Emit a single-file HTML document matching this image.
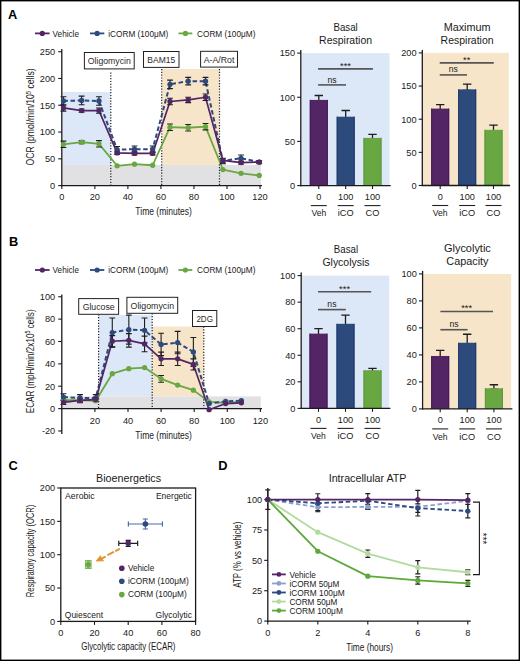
<!DOCTYPE html>
<html><head><meta charset="utf-8"><style>
html,body{margin:0;padding:0;background:#fff;}
body{width:520px;height:661px;overflow:hidden;}
svg{display:block;font-family:"Liberation Sans", sans-serif;}
</style></head><body>
<svg width="520" height="661" viewBox="0 0 520 661">
<rect x="0" y="0" width="520" height="661" fill="#fff"/>
<text x="8.00" y="18.50" font-size="12.8" text-anchor="start" fill="#000" font-weight="bold" >A</text>
<rect x="62.40" y="92.00" width="48.40" height="73.00" fill="#dce7f7" />
<rect x="161.70" y="69.00" width="57.80" height="96.00" fill="#f7e5c9" />
<rect x="62.40" y="165.00" width="198.60" height="20.60" fill="#e1e1e3" />
<line x1="110.80" y1="72.50" x2="110.80" y2="185.60" stroke="#222" stroke-width="1.2" stroke-dasharray="1.2,1.6"/>
<line x1="161.70" y1="69.00" x2="161.70" y2="185.60" stroke="#222" stroke-width="1.2" stroke-dasharray="1.2,1.6"/>
<line x1="219.50" y1="69.00" x2="219.50" y2="185.60" stroke="#222" stroke-width="1.2" stroke-dasharray="1.2,1.6"/>
<rect x="84.4" y="52.5" width="49.80" height="16.40" fill="#fff" stroke="#222" stroke-width="1"/>
<text x="109.30" y="64.20" font-size="9.6" text-anchor="middle" fill="#2a2a2a" font-weight="normal" textLength="42.9" lengthAdjust="spacingAndGlyphs" >Oligomycin</text>
<rect x="143.5" y="51.5" width="35.50" height="15.90" fill="#fff" stroke="#222" stroke-width="1"/>
<text x="161.25" y="62.95" font-size="9.6" text-anchor="middle" fill="#2a2a2a" font-weight="normal" textLength="27.9" lengthAdjust="spacingAndGlyphs" >BAM15</text>
<rect x="200.6" y="51.3" width="36.90" height="15.80" fill="#fff" stroke="#222" stroke-width="1"/>
<text x="219.05" y="62.70" font-size="9.6" text-anchor="middle" fill="#2a2a2a" font-weight="normal" textLength="30.6" lengthAdjust="spacingAndGlyphs" >A-A/Rot</text>
<line x1="61.80" y1="49.00" x2="61.80" y2="186.20" stroke="#1a1a1a" stroke-width="1.3" />
<line x1="61.20" y1="185.60" x2="262.00" y2="185.60" stroke="#1a1a1a" stroke-width="1.3" />
<line x1="58.20" y1="185.60" x2="61.80" y2="185.60" stroke="#1a1a1a" stroke-width="1.1" />
<text x="55.20" y="188.90" font-size="9.2" text-anchor="end" fill="#1a1a1a" font-weight="normal" >0</text>
<line x1="58.20" y1="158.82" x2="61.80" y2="158.82" stroke="#1a1a1a" stroke-width="1.1" />
<text x="55.20" y="162.12" font-size="9.2" text-anchor="end" fill="#1a1a1a" font-weight="normal" >50</text>
<line x1="58.20" y1="132.04" x2="61.80" y2="132.04" stroke="#1a1a1a" stroke-width="1.1" />
<text x="55.20" y="135.34" font-size="9.2" text-anchor="end" fill="#1a1a1a" font-weight="normal" >100</text>
<line x1="58.20" y1="105.26" x2="61.80" y2="105.26" stroke="#1a1a1a" stroke-width="1.1" />
<text x="55.20" y="108.56" font-size="9.2" text-anchor="end" fill="#1a1a1a" font-weight="normal" >150</text>
<line x1="58.20" y1="78.48" x2="61.80" y2="78.48" stroke="#1a1a1a" stroke-width="1.1" />
<text x="55.20" y="81.78" font-size="9.2" text-anchor="end" fill="#1a1a1a" font-weight="normal" >200</text>
<line x1="58.20" y1="51.70" x2="61.80" y2="51.70" stroke="#1a1a1a" stroke-width="1.1" />
<text x="55.20" y="55.00" font-size="9.2" text-anchor="end" fill="#1a1a1a" font-weight="normal" >250</text>
<line x1="61.80" y1="185.60" x2="61.80" y2="189.10" stroke="#1a1a1a" stroke-width="1.1" />
<text x="61.80" y="200.00" font-size="9.2" text-anchor="middle" fill="#1a1a1a" font-weight="normal" >0</text>
<line x1="94.84" y1="185.60" x2="94.84" y2="189.10" stroke="#1a1a1a" stroke-width="1.1" />
<text x="94.84" y="200.00" font-size="9.2" text-anchor="middle" fill="#1a1a1a" font-weight="normal" >20</text>
<line x1="127.88" y1="185.60" x2="127.88" y2="189.10" stroke="#1a1a1a" stroke-width="1.1" />
<text x="127.88" y="200.00" font-size="9.2" text-anchor="middle" fill="#1a1a1a" font-weight="normal" >40</text>
<line x1="160.92" y1="185.60" x2="160.92" y2="189.10" stroke="#1a1a1a" stroke-width="1.1" />
<text x="160.92" y="200.00" font-size="9.2" text-anchor="middle" fill="#1a1a1a" font-weight="normal" >60</text>
<line x1="193.96" y1="185.60" x2="193.96" y2="189.10" stroke="#1a1a1a" stroke-width="1.1" />
<text x="193.96" y="200.00" font-size="9.2" text-anchor="middle" fill="#1a1a1a" font-weight="normal" >80</text>
<line x1="227.00" y1="185.60" x2="227.00" y2="189.10" stroke="#1a1a1a" stroke-width="1.1" />
<text x="227.00" y="200.00" font-size="9.2" text-anchor="middle" fill="#1a1a1a" font-weight="normal" >100</text>
<line x1="260.04" y1="185.60" x2="260.04" y2="189.10" stroke="#1a1a1a" stroke-width="1.1" />
<text x="260.04" y="200.00" font-size="9.2" text-anchor="middle" fill="#1a1a1a" font-weight="normal" >120</text>
<text x="163.60" y="214.60" font-size="10.7" text-anchor="middle" fill="#1a1a1a" font-weight="normal" textLength="56.5" lengthAdjust="spacingAndGlyphs" >Time (minutes)</text>
<text transform="translate(33.9,116.9) rotate(-90)" font-size="10.4" text-anchor="middle" fill="#1a1a1a" textLength="97" lengthAdjust="spacingAndGlyphs">OCR (pmol/min/10<tspan font-size="7" dy="-3.4">5</tspan><tspan dy="3.4"> cells)</tspan></text>
<polyline points="63.45,144.36 81.62,142.22 98.97,143.82 117.14,165.78 134.49,164.18 152.66,165.25 170.01,127.22 188.18,127.76 205.52,126.68 222.87,169.53 241.04,173.28 259.21,175.42" fill="none" stroke="#69a742" stroke-width="1.8" stroke-linejoin="round"/>
<polyline points="63.45,100.98 81.62,100.44 98.97,100.98 117.14,149.71 134.49,149.18 152.66,149.18 170.01,84.37 188.18,81.16 205.52,81.16 222.87,160.96 241.04,158.28 259.21,162.03" fill="none" stroke="#2d4a7c" stroke-width="2.0" stroke-linejoin="round" stroke-dasharray="4.5,2.6"/>
<polyline points="63.45,107.94 81.62,110.62 98.97,110.62 117.14,152.93 134.49,153.46 152.66,153.46 170.01,101.51 188.18,99.90 205.52,97.23 222.87,160.43 241.04,162.57 259.21,162.03" fill="none" stroke="#542564" stroke-width="1.7" stroke-linejoin="round"/>
<path d="M60.55,104.72H66.35M63.45,104.72V111.15M60.55,111.15H66.35" stroke="#1e1e1e" stroke-width="1.1" fill="none"/>
<path d="M78.72,109.01H84.52M81.62,109.01V112.22M78.72,112.22H84.52" stroke="#1e1e1e" stroke-width="1.1" fill="none"/>
<path d="M96.07,107.94H101.87M98.97,107.94V113.29M96.07,113.29H101.87" stroke="#1e1e1e" stroke-width="1.1" fill="none"/>
<path d="M114.24,151.32H120.04M117.14,151.32V154.54M114.24,154.54H120.04" stroke="#1e1e1e" stroke-width="1.1" fill="none"/>
<path d="M131.59,151.86H137.39M134.49,151.86V155.07M131.59,155.07H137.39" stroke="#1e1e1e" stroke-width="1.1" fill="none"/>
<path d="M149.76,151.86H155.56M152.66,151.86V155.07M149.76,155.07H155.56" stroke="#1e1e1e" stroke-width="1.1" fill="none"/>
<path d="M167.11,98.30H172.91M170.01,98.30V104.72M167.11,104.72H172.91" stroke="#1e1e1e" stroke-width="1.1" fill="none"/>
<path d="M185.28,97.23H191.08M188.18,97.23V102.58M185.28,102.58H191.08" stroke="#1e1e1e" stroke-width="1.1" fill="none"/>
<path d="M202.62,94.01H208.42M205.52,94.01V100.44M202.62,100.44H208.42" stroke="#1e1e1e" stroke-width="1.1" fill="none"/>
<path d="M219.97,158.82H225.77M222.87,158.82V162.03M219.97,162.03H225.77" stroke="#1e1e1e" stroke-width="1.1" fill="none"/>
<path d="M238.14,160.96H243.94M241.04,160.96V164.18M238.14,164.18H243.94" stroke="#1e1e1e" stroke-width="1.1" fill="none"/>
<path d="M60.55,96.69H66.35M63.45,96.69V105.26M60.55,105.26H66.35" stroke="#1e1e1e" stroke-width="1.1" fill="none"/>
<path d="M78.72,96.15H84.52M81.62,96.15V104.72M78.72,104.72H84.52" stroke="#1e1e1e" stroke-width="1.1" fill="none"/>
<path d="M96.07,96.69H101.87M98.97,96.69V105.26M96.07,105.26H101.87" stroke="#1e1e1e" stroke-width="1.1" fill="none"/>
<path d="M114.24,146.50H120.04M117.14,146.50V152.93M114.24,152.93H120.04" stroke="#1e1e1e" stroke-width="1.1" fill="none"/>
<path d="M131.59,145.97H137.39M134.49,145.97V152.39M131.59,152.39H137.39" stroke="#1e1e1e" stroke-width="1.1" fill="none"/>
<path d="M149.76,145.97H155.56M152.66,145.97V152.39M149.76,152.39H155.56" stroke="#1e1e1e" stroke-width="1.1" fill="none"/>
<path d="M167.11,80.09H172.91M170.01,80.09V88.66M167.11,88.66H172.91" stroke="#1e1e1e" stroke-width="1.1" fill="none"/>
<path d="M185.28,77.41H191.08M188.18,77.41V84.91M185.28,84.91H191.08" stroke="#1e1e1e" stroke-width="1.1" fill="none"/>
<path d="M202.62,77.41H208.42M205.52,77.41V84.91M202.62,84.91H208.42" stroke="#1e1e1e" stroke-width="1.1" fill="none"/>
<path d="M219.97,158.28H225.77M222.87,158.28V163.64M219.97,163.64H225.77" stroke="#1e1e1e" stroke-width="1.1" fill="none"/>
<path d="M238.14,155.07H243.94M241.04,155.07V161.50M238.14,161.50H243.94" stroke="#1e1e1e" stroke-width="1.1" fill="none"/>
<path d="M256.31,160.43H262.11M259.21,160.43V163.64M256.31,163.64H262.11" stroke="#1e1e1e" stroke-width="1.1" fill="none"/>
<path d="M60.55,141.15H66.35M63.45,141.15V147.57M60.55,147.57H66.35" stroke="#1e1e1e" stroke-width="1.1" fill="none"/>
<path d="M78.72,140.61H84.52M81.62,140.61V143.82M78.72,143.82H84.52" stroke="#1e1e1e" stroke-width="1.1" fill="none"/>
<path d="M96.07,140.61H101.87M98.97,140.61V147.04M96.07,147.04H101.87" stroke="#1e1e1e" stroke-width="1.1" fill="none"/>
<path d="M167.11,124.01H172.91M170.01,124.01V130.43M167.11,130.43H172.91" stroke="#1e1e1e" stroke-width="1.1" fill="none"/>
<path d="M185.28,124.54H191.08M188.18,124.54V130.97M185.28,130.97H191.08" stroke="#1e1e1e" stroke-width="1.1" fill="none"/>
<path d="M202.62,123.47H208.42M205.52,123.47V129.90M202.62,129.90H208.42" stroke="#1e1e1e" stroke-width="1.1" fill="none"/>
<circle cx="63.45" cy="144.36" r="2.65" fill="#69a742" />
<circle cx="81.62" cy="142.22" r="2.65" fill="#69a742" />
<circle cx="98.97" cy="143.82" r="2.65" fill="#69a742" />
<circle cx="117.14" cy="165.78" r="2.65" fill="#69a742" />
<circle cx="134.49" cy="164.18" r="2.65" fill="#69a742" />
<circle cx="152.66" cy="165.25" r="2.65" fill="#69a742" />
<circle cx="170.01" cy="127.22" r="2.65" fill="#69a742" />
<circle cx="188.18" cy="127.76" r="2.65" fill="#69a742" />
<circle cx="205.52" cy="126.68" r="2.65" fill="#69a742" />
<circle cx="222.87" cy="169.53" r="2.65" fill="#69a742" />
<circle cx="241.04" cy="173.28" r="2.65" fill="#69a742" />
<circle cx="259.21" cy="175.42" r="2.65" fill="#69a742" />
<circle cx="63.45" cy="100.98" r="2.65" fill="#2d4a7c" />
<circle cx="81.62" cy="100.44" r="2.65" fill="#2d4a7c" />
<circle cx="98.97" cy="100.98" r="2.65" fill="#2d4a7c" />
<circle cx="117.14" cy="149.71" r="2.65" fill="#2d4a7c" />
<circle cx="134.49" cy="149.18" r="2.65" fill="#2d4a7c" />
<circle cx="152.66" cy="149.18" r="2.65" fill="#2d4a7c" />
<circle cx="170.01" cy="84.37" r="2.65" fill="#2d4a7c" />
<circle cx="188.18" cy="81.16" r="2.65" fill="#2d4a7c" />
<circle cx="205.52" cy="81.16" r="2.65" fill="#2d4a7c" />
<circle cx="222.87" cy="160.96" r="2.65" fill="#2d4a7c" />
<circle cx="241.04" cy="158.28" r="2.65" fill="#2d4a7c" />
<circle cx="259.21" cy="162.03" r="2.65" fill="#2d4a7c" />
<circle cx="63.45" cy="107.94" r="2.65" fill="#542564" />
<circle cx="81.62" cy="110.62" r="2.65" fill="#542564" />
<circle cx="98.97" cy="110.62" r="2.65" fill="#542564" />
<circle cx="117.14" cy="152.93" r="2.65" fill="#542564" />
<circle cx="134.49" cy="153.46" r="2.65" fill="#542564" />
<circle cx="152.66" cy="153.46" r="2.65" fill="#542564" />
<circle cx="170.01" cy="101.51" r="2.65" fill="#542564" />
<circle cx="188.18" cy="99.90" r="2.65" fill="#542564" />
<circle cx="205.52" cy="97.23" r="2.65" fill="#542564" />
<circle cx="222.87" cy="160.43" r="2.65" fill="#542564" />
<circle cx="241.04" cy="162.57" r="2.65" fill="#542564" />
<circle cx="259.21" cy="162.03" r="2.65" fill="#542564" />
<line x1="35.00" y1="33.40" x2="49.60" y2="33.40" stroke="#542564" stroke-width="1.8" />
<circle cx="42.30" cy="33.40" r="2.6" fill="#542564" />
<text x="52.60" y="36.50" font-size="8.6" text-anchor="start" fill="#1a1a1a" font-weight="normal" textLength="26.4" lengthAdjust="spacingAndGlyphs" >Vehicle</text>
<line x1="90.00" y1="33.40" x2="104.30" y2="33.40" stroke="#2d4a7c" stroke-width="1.8" />
<circle cx="97.15" cy="33.40" r="2.6" fill="#2d4a7c" />
<text x="108.30" y="36.50" font-size="8.6" text-anchor="start" fill="#1a1a1a" font-weight="normal" textLength="60" lengthAdjust="spacingAndGlyphs" >iCORM (100μM)</text>
<line x1="178.50" y1="33.40" x2="192.30" y2="33.40" stroke="#69a742" stroke-width="1.8" />
<circle cx="185.40" cy="33.40" r="2.6" fill="#69a742" />
<text x="197.00" y="36.50" font-size="8.6" text-anchor="start" fill="#1a1a1a" font-weight="normal" textLength="58.4" lengthAdjust="spacingAndGlyphs" >CORM (100μM)</text>
<text x="9.00" y="246.20" font-size="12.8" text-anchor="start" fill="#000" font-weight="bold" >B</text>
<rect x="98.60" y="315.00" width="53.60" height="81.40" fill="#dce7f7" />
<rect x="152.20" y="326.50" width="51.60" height="69.90" fill="#f7e5c9" />
<rect x="62.40" y="396.40" width="198.40" height="12.20" fill="#e1e1e3" />
<line x1="98.60" y1="314.30" x2="98.60" y2="408.60" stroke="#222" stroke-width="1.2" stroke-dasharray="1.2,1.6"/>
<line x1="152.20" y1="313.30" x2="152.20" y2="408.60" stroke="#222" stroke-width="1.2" stroke-dasharray="1.2,1.6"/>
<line x1="203.80" y1="326.50" x2="203.80" y2="408.60" stroke="#222" stroke-width="1.2" stroke-dasharray="1.2,1.6"/>
<rect x="78.7" y="298.6" width="39.90" height="15.70" fill="#fff" stroke="#222" stroke-width="1"/>
<text x="98.65" y="309.95" font-size="9.6" text-anchor="middle" fill="#2a2a2a" font-weight="normal" textLength="32" lengthAdjust="spacingAndGlyphs" >Glucose</text>
<rect x="126.9" y="297.3" width="50.80" height="16.00" fill="#fff" stroke="#222" stroke-width="1"/>
<text x="152.30" y="308.80" font-size="9.6" text-anchor="middle" fill="#2a2a2a" font-weight="normal" textLength="43.5" lengthAdjust="spacingAndGlyphs" >Oligomycin</text>
<rect x="192.5" y="310.5" width="24.30" height="16.00" fill="#fff" stroke="#222" stroke-width="1"/>
<text x="204.65" y="322.00" font-size="9.6" text-anchor="middle" fill="#2a2a2a" font-weight="normal" textLength="16.5" lengthAdjust="spacingAndGlyphs" >2DG</text>
<line x1="61.80" y1="294.40" x2="61.80" y2="434.00" stroke="#1a1a1a" stroke-width="1.3" />
<line x1="61.20" y1="408.60" x2="262.00" y2="408.60" stroke="#1a1a1a" stroke-width="1.3" />
<line x1="58.20" y1="430.97" x2="61.80" y2="430.97" stroke="#1a1a1a" stroke-width="1.1" />
<text x="55.20" y="434.27" font-size="9.2" text-anchor="end" fill="#1a1a1a" font-weight="normal" >-20</text>
<line x1="58.20" y1="408.60" x2="61.80" y2="408.60" stroke="#1a1a1a" stroke-width="1.1" />
<text x="55.20" y="411.90" font-size="9.2" text-anchor="end" fill="#1a1a1a" font-weight="normal" >0</text>
<line x1="58.20" y1="386.23" x2="61.80" y2="386.23" stroke="#1a1a1a" stroke-width="1.1" />
<text x="55.20" y="389.53" font-size="9.2" text-anchor="end" fill="#1a1a1a" font-weight="normal" >20</text>
<line x1="58.20" y1="363.86" x2="61.80" y2="363.86" stroke="#1a1a1a" stroke-width="1.1" />
<text x="55.20" y="367.16" font-size="9.2" text-anchor="end" fill="#1a1a1a" font-weight="normal" >40</text>
<line x1="58.20" y1="341.49" x2="61.80" y2="341.49" stroke="#1a1a1a" stroke-width="1.1" />
<text x="55.20" y="344.79" font-size="9.2" text-anchor="end" fill="#1a1a1a" font-weight="normal" >60</text>
<line x1="58.20" y1="319.12" x2="61.80" y2="319.12" stroke="#1a1a1a" stroke-width="1.1" />
<text x="55.20" y="322.42" font-size="9.2" text-anchor="end" fill="#1a1a1a" font-weight="normal" >80</text>
<line x1="58.20" y1="296.75" x2="61.80" y2="296.75" stroke="#1a1a1a" stroke-width="1.1" />
<text x="55.20" y="300.05" font-size="9.2" text-anchor="end" fill="#1a1a1a" font-weight="normal" >100</text>
<line x1="94.90" y1="408.60" x2="94.90" y2="412.10" stroke="#1a1a1a" stroke-width="1.1" />
<text x="94.90" y="423.60" font-size="9.2" text-anchor="middle" fill="#1a1a1a" font-weight="normal" >20</text>
<line x1="128.00" y1="408.60" x2="128.00" y2="412.10" stroke="#1a1a1a" stroke-width="1.1" />
<text x="128.00" y="423.60" font-size="9.2" text-anchor="middle" fill="#1a1a1a" font-weight="normal" >40</text>
<line x1="161.10" y1="408.60" x2="161.10" y2="412.10" stroke="#1a1a1a" stroke-width="1.1" />
<text x="161.10" y="423.60" font-size="9.2" text-anchor="middle" fill="#1a1a1a" font-weight="normal" >60</text>
<line x1="194.20" y1="408.60" x2="194.20" y2="412.10" stroke="#1a1a1a" stroke-width="1.1" />
<text x="194.20" y="423.60" font-size="9.2" text-anchor="middle" fill="#1a1a1a" font-weight="normal" >80</text>
<line x1="227.30" y1="408.60" x2="227.30" y2="412.10" stroke="#1a1a1a" stroke-width="1.1" />
<text x="227.30" y="423.60" font-size="9.2" text-anchor="middle" fill="#1a1a1a" font-weight="normal" >100</text>
<line x1="260.40" y1="408.60" x2="260.40" y2="412.10" stroke="#1a1a1a" stroke-width="1.1" />
<text x="260.40" y="423.60" font-size="9.2" text-anchor="middle" fill="#1a1a1a" font-weight="normal" >120</text>
<text x="163.60" y="438.80" font-size="10.7" text-anchor="middle" fill="#1a1a1a" font-weight="normal" textLength="56.5" lengthAdjust="spacingAndGlyphs" >Time (minutes)</text>
<text transform="translate(33.8,361.3) rotate(-90)" font-size="10.4" text-anchor="middle" fill="#1a1a1a" textLength="103.8" lengthAdjust="spacingAndGlyphs">ECAR (mpH/min/2x10<tspan font-size="7" dy="-3.4">5</tspan><tspan dy="3.4"> cells)</tspan></text>
<polyline points="63.45,400.21 80.00,400.21 95.73,400.77 112.28,373.70 128.83,368.67 144.55,367.55 161.10,378.85 177.65,385.11 193.37,390.14 209.10,401.89 225.64,402.78 241.37,401.89" fill="none" stroke="#69a742" stroke-width="1.8" stroke-linejoin="round"/>
<polyline points="63.45,397.08 80.00,397.97 95.73,397.97 112.28,332.54 128.83,329.63 144.55,330.31 161.10,344.40 177.65,342.61 193.37,352.00 209.10,403.57 225.64,401.33 241.37,400.77" fill="none" stroke="#2d4a7c" stroke-width="2.0" stroke-linejoin="round" stroke-dasharray="4.5,2.6"/>
<polyline points="63.45,402.34 80.00,400.43 95.73,399.54 112.28,341.27 128.83,340.37 144.55,343.95 161.10,358.83 177.65,358.83 193.37,364.42 209.10,409.72 225.64,403.57 241.37,402.78" fill="none" stroke="#542564" stroke-width="1.7" stroke-linejoin="round"/>
<path d="M60.55,400.10H66.36M63.45,400.10V404.57M60.55,404.57H66.36" stroke="#1e1e1e" stroke-width="1.1" fill="none"/>
<path d="M77.10,398.20H82.91M80.00,398.20V402.67M77.10,402.67H82.91" stroke="#1e1e1e" stroke-width="1.1" fill="none"/>
<path d="M92.83,397.30H98.63M95.73,397.30V401.78M92.83,401.78H98.63" stroke="#1e1e1e" stroke-width="1.1" fill="none"/>
<path d="M109.38,335.67H115.18M112.28,335.67V346.86M109.38,346.86H115.18" stroke="#1e1e1e" stroke-width="1.1" fill="none"/>
<path d="M125.93,333.66H131.73M128.83,333.66V347.08M125.93,347.08H131.73" stroke="#1e1e1e" stroke-width="1.1" fill="none"/>
<path d="M141.65,336.12H147.45M144.55,336.12V351.78M141.65,351.78H147.45" stroke="#1e1e1e" stroke-width="1.1" fill="none"/>
<path d="M158.20,352.12H164.00M161.10,352.12V365.54M158.20,365.54H164.00" stroke="#1e1e1e" stroke-width="1.1" fill="none"/>
<path d="M174.75,352.12H180.55M177.65,352.12V365.54M174.75,365.54H180.55" stroke="#1e1e1e" stroke-width="1.1" fill="none"/>
<path d="M190.47,358.83H196.27M193.37,358.83V370.01M190.47,370.01H196.27" stroke="#1e1e1e" stroke-width="1.1" fill="none"/>
<path d="M60.55,393.72H66.36M63.45,393.72V400.43M60.55,400.43H66.36" stroke="#1e1e1e" stroke-width="1.1" fill="none"/>
<path d="M77.10,394.62H82.91M80.00,394.62V401.33M77.10,401.33H82.91" stroke="#1e1e1e" stroke-width="1.1" fill="none"/>
<path d="M92.83,394.62H98.63M95.73,394.62V401.33M92.83,401.33H98.63" stroke="#1e1e1e" stroke-width="1.1" fill="none"/>
<path d="M109.38,318.00H115.18M112.28,318.00V347.08M109.38,347.08H115.18" stroke="#1e1e1e" stroke-width="1.1" fill="none"/>
<path d="M125.93,315.09H131.73M128.83,315.09V344.17M125.93,344.17H131.73" stroke="#1e1e1e" stroke-width="1.1" fill="none"/>
<path d="M141.65,318.00H147.45M144.55,318.00V342.61M141.65,342.61H147.45" stroke="#1e1e1e" stroke-width="1.1" fill="none"/>
<path d="M158.20,333.21H164.00M161.10,333.21V355.58M158.20,355.58H164.00" stroke="#1e1e1e" stroke-width="1.1" fill="none"/>
<path d="M174.75,331.42H180.55M177.65,331.42V353.79M174.75,353.79H180.55" stroke="#1e1e1e" stroke-width="1.1" fill="none"/>
<path d="M190.47,337.46H196.27M193.37,337.46V366.54M190.47,366.54H196.27" stroke="#1e1e1e" stroke-width="1.1" fill="none"/>
<path d="M158.20,375.49H164.00M161.10,375.49V382.20M158.20,382.20H164.00" stroke="#1e1e1e" stroke-width="1.1" fill="none"/>
<circle cx="63.45" cy="400.21" r="2.65" fill="#69a742" />
<circle cx="80.00" cy="400.21" r="2.65" fill="#69a742" />
<circle cx="95.73" cy="400.77" r="2.65" fill="#69a742" />
<circle cx="112.28" cy="373.70" r="2.65" fill="#69a742" />
<circle cx="128.83" cy="368.67" r="2.65" fill="#69a742" />
<circle cx="144.55" cy="367.55" r="2.65" fill="#69a742" />
<circle cx="161.10" cy="378.85" r="2.65" fill="#69a742" />
<circle cx="177.65" cy="385.11" r="2.65" fill="#69a742" />
<circle cx="193.37" cy="390.14" r="2.65" fill="#69a742" />
<circle cx="209.10" cy="401.89" r="2.65" fill="#69a742" />
<circle cx="225.64" cy="402.78" r="2.65" fill="#69a742" />
<circle cx="241.37" cy="401.89" r="2.65" fill="#69a742" />
<circle cx="63.45" cy="397.08" r="2.65" fill="#2d4a7c" />
<circle cx="80.00" cy="397.97" r="2.65" fill="#2d4a7c" />
<circle cx="95.73" cy="397.97" r="2.65" fill="#2d4a7c" />
<circle cx="112.28" cy="332.54" r="2.65" fill="#2d4a7c" />
<circle cx="128.83" cy="329.63" r="2.65" fill="#2d4a7c" />
<circle cx="144.55" cy="330.31" r="2.65" fill="#2d4a7c" />
<circle cx="161.10" cy="344.40" r="2.65" fill="#2d4a7c" />
<circle cx="177.65" cy="342.61" r="2.65" fill="#2d4a7c" />
<circle cx="193.37" cy="352.00" r="2.65" fill="#2d4a7c" />
<circle cx="209.10" cy="403.57" r="2.65" fill="#2d4a7c" />
<circle cx="225.64" cy="401.33" r="2.65" fill="#2d4a7c" />
<circle cx="241.37" cy="400.77" r="2.65" fill="#2d4a7c" />
<circle cx="63.45" cy="402.34" r="2.65" fill="#542564" />
<circle cx="80.00" cy="400.43" r="2.65" fill="#542564" />
<circle cx="95.73" cy="399.54" r="2.65" fill="#542564" />
<circle cx="112.28" cy="341.27" r="2.65" fill="#542564" />
<circle cx="128.83" cy="340.37" r="2.65" fill="#542564" />
<circle cx="144.55" cy="343.95" r="2.65" fill="#542564" />
<circle cx="161.10" cy="358.83" r="2.65" fill="#542564" />
<circle cx="177.65" cy="358.83" r="2.65" fill="#542564" />
<circle cx="193.37" cy="364.42" r="2.65" fill="#542564" />
<circle cx="209.10" cy="409.72" r="2.65" fill="#542564" />
<circle cx="225.64" cy="403.57" r="2.65" fill="#542564" />
<circle cx="241.37" cy="402.78" r="2.65" fill="#542564" />
<line x1="35.00" y1="270.00" x2="49.60" y2="270.00" stroke="#542564" stroke-width="1.8" />
<circle cx="42.30" cy="270.00" r="2.6" fill="#542564" />
<text x="52.60" y="273.10" font-size="8.6" text-anchor="start" fill="#1a1a1a" font-weight="normal" textLength="26.4" lengthAdjust="spacingAndGlyphs" >Vehicle</text>
<line x1="90.00" y1="270.00" x2="104.30" y2="270.00" stroke="#2d4a7c" stroke-width="1.8" />
<circle cx="97.15" cy="270.00" r="2.6" fill="#2d4a7c" />
<text x="108.30" y="273.10" font-size="8.6" text-anchor="start" fill="#1a1a1a" font-weight="normal" textLength="60" lengthAdjust="spacingAndGlyphs" >iCORM (100μM)</text>
<line x1="178.50" y1="270.00" x2="192.30" y2="270.00" stroke="#69a742" stroke-width="1.8" />
<circle cx="185.40" cy="270.00" r="2.6" fill="#69a742" />
<text x="197.00" y="273.10" font-size="8.6" text-anchor="start" fill="#1a1a1a" font-weight="normal" textLength="58.4" lengthAdjust="spacingAndGlyphs" >CORM (100μM)</text>
<text x="345.60" y="30.50" font-size="10.2" text-anchor="middle" fill="#1a1a1a" font-weight="normal" textLength="24.3" lengthAdjust="spacingAndGlyphs" >Basal</text>
<text x="345.60" y="43.90" font-size="10.2" text-anchor="middle" fill="#1a1a1a" font-weight="normal" textLength="53" lengthAdjust="spacingAndGlyphs" >Respiration</text>
<rect x="301.60" y="53.10" width="87.90" height="132.50" fill="#dce7f7" />
<path d="M314.60,95.50H323.00M318.80,95.50V100.92M314.60,100.92H323.00" stroke="#1e1e1e" stroke-width="1.3" fill="none"/>
<rect x="309.80" y="99.92" width="18.00" height="85.68" fill="#542564" />
<line x1="310.30" y1="99.92" x2="310.30" y2="185.60" stroke="#43175a" stroke-width="1" />
<line x1="327.30" y1="99.92" x2="327.30" y2="185.60" stroke="#43175a" stroke-width="1" />
<line x1="318.80" y1="185.60" x2="318.80" y2="189.00" stroke="#1a1a1a" stroke-width="1.1" />
<path d="M341.50,110.52H349.90M345.70,110.52V117.70M341.50,117.70H349.90" stroke="#1e1e1e" stroke-width="1.3" fill="none"/>
<rect x="336.70" y="116.70" width="18.00" height="68.90" fill="#2d4a7c" />
<line x1="337.20" y1="116.70" x2="337.20" y2="185.60" stroke="#1d3769" stroke-width="1" />
<line x1="354.20" y1="116.70" x2="354.20" y2="185.60" stroke="#1d3769" stroke-width="1" />
<line x1="345.70" y1="185.60" x2="345.70" y2="189.00" stroke="#1a1a1a" stroke-width="1.1" />
<path d="M368.30,134.37H376.70M372.50,134.37V138.90M368.30,138.90H376.70" stroke="#1e1e1e" stroke-width="1.3" fill="none"/>
<rect x="363.50" y="137.90" width="18.00" height="47.70" fill="#69a742" />
<line x1="364.00" y1="137.90" x2="364.00" y2="185.60" stroke="#5a983a" stroke-width="1" />
<line x1="381.00" y1="137.90" x2="381.00" y2="185.60" stroke="#5a983a" stroke-width="1" />
<line x1="372.50" y1="185.60" x2="372.50" y2="189.00" stroke="#1a1a1a" stroke-width="1.1" />
<line x1="300.80" y1="50.10" x2="300.80" y2="186.20" stroke="#1a1a1a" stroke-width="1.3" />
<line x1="300.20" y1="185.60" x2="390.70" y2="185.60" stroke="#1a1a1a" stroke-width="1.3" />
<line x1="297.20" y1="185.60" x2="300.80" y2="185.60" stroke="#1a1a1a" stroke-width="1.1" />
<text x="295.00" y="188.90" font-size="9.2" text-anchor="end" fill="#1a1a1a" font-weight="normal" >0</text>
<line x1="297.20" y1="141.43" x2="300.80" y2="141.43" stroke="#1a1a1a" stroke-width="1.1" />
<text x="295.00" y="144.73" font-size="9.2" text-anchor="end" fill="#1a1a1a" font-weight="normal" >50</text>
<line x1="297.20" y1="97.27" x2="300.80" y2="97.27" stroke="#1a1a1a" stroke-width="1.1" />
<text x="295.00" y="100.57" font-size="9.2" text-anchor="end" fill="#1a1a1a" font-weight="normal" >100</text>
<line x1="297.20" y1="53.10" x2="300.80" y2="53.10" stroke="#1a1a1a" stroke-width="1.1" />
<text x="295.00" y="56.40" font-size="9.2" text-anchor="end" fill="#1a1a1a" font-weight="normal" >150</text>
<text x="318.80" y="200.00" font-size="9.2" text-anchor="middle" fill="#1a1a1a" font-weight="normal" >0</text>
<line x1="310.80" y1="205.60" x2="326.80" y2="205.60" stroke="#222" stroke-width="1.1" />
<text x="318.80" y="216.20" font-size="9.2" text-anchor="middle" fill="#1a1a1a" font-weight="normal" textLength="14.8" lengthAdjust="spacingAndGlyphs" >Veh</text>
<text x="345.70" y="200.00" font-size="9.2" text-anchor="middle" fill="#1a1a1a" font-weight="normal" >100</text>
<line x1="337.70" y1="205.60" x2="353.70" y2="205.60" stroke="#222" stroke-width="1.1" />
<text x="345.70" y="216.20" font-size="9.2" text-anchor="middle" fill="#1a1a1a" font-weight="normal" >iCO</text>
<text x="372.50" y="200.00" font-size="9.2" text-anchor="middle" fill="#1a1a1a" font-weight="normal" >100</text>
<line x1="364.50" y1="205.60" x2="380.50" y2="205.60" stroke="#222" stroke-width="1.1" />
<text x="372.50" y="216.20" font-size="9.2" text-anchor="middle" fill="#1a1a1a" font-weight="normal" >CO</text>
<line x1="318.10" y1="68.90" x2="372.90" y2="68.90" stroke="#555" stroke-width="1.6" />
<text x="345.50" y="68.80" font-size="9.4" text-anchor="middle" fill="#1a1a1a" font-weight="normal" >***</text>
<line x1="318.10" y1="84.90" x2="346.00" y2="84.90" stroke="#555" stroke-width="1.6" />
<text x="332.05" y="82.60" font-size="8.6" text-anchor="middle" fill="#1a1a1a" font-weight="normal" >ns</text>
<text x="467.10" y="30.80" font-size="10.2" text-anchor="middle" fill="#1a1a1a" font-weight="normal" textLength="46.9" lengthAdjust="spacingAndGlyphs" >Maximum</text>
<text x="467.10" y="43.80" font-size="10.2" text-anchor="middle" fill="#1a1a1a" font-weight="normal" textLength="53" lengthAdjust="spacingAndGlyphs" >Respiration</text>
<rect x="423.10" y="52.90" width="85.70" height="132.60" fill="#f7e5c9" />
<path d="M436.00,104.61H444.40M440.20,104.61V109.59M436.00,109.59H444.40" stroke="#1e1e1e" stroke-width="1.3" fill="none"/>
<rect x="431.20" y="108.59" width="18.00" height="76.91" fill="#542564" />
<line x1="431.70" y1="108.59" x2="431.70" y2="185.50" stroke="#43175a" stroke-width="1" />
<line x1="448.70" y1="108.59" x2="448.70" y2="185.50" stroke="#43175a" stroke-width="1" />
<line x1="440.20" y1="185.50" x2="440.20" y2="188.90" stroke="#1a1a1a" stroke-width="1.1" />
<path d="M463.00,84.06H471.40M467.20,84.06V90.37M463.00,90.37H471.40" stroke="#1e1e1e" stroke-width="1.3" fill="none"/>
<rect x="458.20" y="89.37" width="18.00" height="96.13" fill="#2d4a7c" />
<line x1="458.70" y1="89.37" x2="458.70" y2="185.50" stroke="#1d3769" stroke-width="1" />
<line x1="475.70" y1="89.37" x2="475.70" y2="185.50" stroke="#1d3769" stroke-width="1" />
<line x1="467.20" y1="185.50" x2="467.20" y2="188.90" stroke="#1a1a1a" stroke-width="1.1" />
<path d="M489.30,125.17H497.70M493.50,125.17V130.81M489.30,130.81H497.70" stroke="#1e1e1e" stroke-width="1.3" fill="none"/>
<rect x="484.50" y="129.81" width="18.00" height="55.69" fill="#69a742" />
<line x1="485.00" y1="129.81" x2="485.00" y2="185.50" stroke="#5a983a" stroke-width="1" />
<line x1="502.00" y1="129.81" x2="502.00" y2="185.50" stroke="#5a983a" stroke-width="1" />
<line x1="493.50" y1="185.50" x2="493.50" y2="188.90" stroke="#1a1a1a" stroke-width="1.1" />
<line x1="422.30" y1="49.90" x2="422.30" y2="186.10" stroke="#1a1a1a" stroke-width="1.3" />
<line x1="421.70" y1="185.50" x2="510.00" y2="185.50" stroke="#1a1a1a" stroke-width="1.3" />
<line x1="418.70" y1="185.50" x2="422.30" y2="185.50" stroke="#1a1a1a" stroke-width="1.1" />
<text x="416.50" y="188.80" font-size="9.2" text-anchor="end" fill="#1a1a1a" font-weight="normal" >0</text>
<line x1="418.70" y1="152.35" x2="422.30" y2="152.35" stroke="#1a1a1a" stroke-width="1.1" />
<text x="416.50" y="155.65" font-size="9.2" text-anchor="end" fill="#1a1a1a" font-weight="normal" >50</text>
<line x1="418.70" y1="119.20" x2="422.30" y2="119.20" stroke="#1a1a1a" stroke-width="1.1" />
<text x="416.50" y="122.50" font-size="9.2" text-anchor="end" fill="#1a1a1a" font-weight="normal" >100</text>
<line x1="418.70" y1="86.05" x2="422.30" y2="86.05" stroke="#1a1a1a" stroke-width="1.1" />
<text x="416.50" y="89.35" font-size="9.2" text-anchor="end" fill="#1a1a1a" font-weight="normal" >150</text>
<line x1="418.70" y1="52.90" x2="422.30" y2="52.90" stroke="#1a1a1a" stroke-width="1.1" />
<text x="416.50" y="56.20" font-size="9.2" text-anchor="end" fill="#1a1a1a" font-weight="normal" >200</text>
<text x="440.20" y="199.90" font-size="9.2" text-anchor="middle" fill="#1a1a1a" font-weight="normal" >0</text>
<line x1="432.20" y1="205.50" x2="448.20" y2="205.50" stroke="#222" stroke-width="1.1" />
<text x="440.20" y="216.10" font-size="9.2" text-anchor="middle" fill="#1a1a1a" font-weight="normal" textLength="14.8" lengthAdjust="spacingAndGlyphs" >Veh</text>
<text x="467.20" y="199.90" font-size="9.2" text-anchor="middle" fill="#1a1a1a" font-weight="normal" >100</text>
<line x1="459.20" y1="205.50" x2="475.20" y2="205.50" stroke="#222" stroke-width="1.1" />
<text x="467.20" y="216.10" font-size="9.2" text-anchor="middle" fill="#1a1a1a" font-weight="normal" >iCO</text>
<text x="493.50" y="199.90" font-size="9.2" text-anchor="middle" fill="#1a1a1a" font-weight="normal" >100</text>
<line x1="485.50" y1="205.50" x2="501.50" y2="205.50" stroke="#222" stroke-width="1.1" />
<text x="493.50" y="216.10" font-size="9.2" text-anchor="middle" fill="#1a1a1a" font-weight="normal" >CO</text>
<line x1="439.70" y1="62.90" x2="493.80" y2="62.90" stroke="#555" stroke-width="1.6" />
<text x="466.75" y="62.60" font-size="9.4" text-anchor="middle" fill="#1a1a1a" font-weight="normal" >**</text>
<line x1="439.70" y1="74.90" x2="467.00" y2="74.90" stroke="#555" stroke-width="1.6" />
<text x="453.35" y="72.20" font-size="8.6" text-anchor="middle" fill="#1a1a1a" font-weight="normal" >ns</text>
<text x="346.00" y="252.90" font-size="10.2" text-anchor="middle" fill="#1a1a1a" font-weight="normal" textLength="24.3" lengthAdjust="spacingAndGlyphs" >Basal</text>
<text x="346.00" y="265.70" font-size="10.2" text-anchor="middle" fill="#1a1a1a" font-weight="normal" textLength="47.2" lengthAdjust="spacingAndGlyphs" >Glycolysis</text>
<rect x="302.00" y="275.60" width="87.20" height="132.80" fill="#dce7f7" />
<path d="M314.30,328.72H322.70M318.50,328.72V334.63M314.30,334.63H322.70" stroke="#1e1e1e" stroke-width="1.3" fill="none"/>
<rect x="309.50" y="333.63" width="18.00" height="74.77" fill="#542564" />
<line x1="310.00" y1="333.63" x2="310.00" y2="408.40" stroke="#43175a" stroke-width="1" />
<line x1="327.00" y1="333.63" x2="327.00" y2="408.40" stroke="#43175a" stroke-width="1" />
<line x1="318.50" y1="408.40" x2="318.50" y2="411.80" stroke="#1a1a1a" stroke-width="1.1" />
<path d="M341.30,315.17H349.70M345.50,315.17V324.81M341.30,324.81H349.70" stroke="#1e1e1e" stroke-width="1.3" fill="none"/>
<rect x="336.50" y="323.81" width="18.00" height="84.59" fill="#2d4a7c" />
<line x1="337.00" y1="323.81" x2="337.00" y2="408.40" stroke="#1d3769" stroke-width="1" />
<line x1="354.00" y1="323.81" x2="354.00" y2="408.40" stroke="#1d3769" stroke-width="1" />
<line x1="345.50" y1="408.40" x2="345.50" y2="411.80" stroke="#1a1a1a" stroke-width="1.1" />
<path d="M368.30,368.43H376.70M372.50,368.43V371.29M368.30,371.29H376.70" stroke="#1e1e1e" stroke-width="1.3" fill="none"/>
<rect x="363.50" y="370.29" width="18.00" height="38.11" fill="#69a742" />
<line x1="364.00" y1="370.29" x2="364.00" y2="408.40" stroke="#5a983a" stroke-width="1" />
<line x1="381.00" y1="370.29" x2="381.00" y2="408.40" stroke="#5a983a" stroke-width="1" />
<line x1="372.50" y1="408.40" x2="372.50" y2="411.80" stroke="#1a1a1a" stroke-width="1.1" />
<line x1="301.20" y1="272.60" x2="301.20" y2="409.00" stroke="#1a1a1a" stroke-width="1.3" />
<line x1="300.60" y1="408.40" x2="390.40" y2="408.40" stroke="#1a1a1a" stroke-width="1.3" />
<line x1="297.60" y1="408.40" x2="301.20" y2="408.40" stroke="#1a1a1a" stroke-width="1.1" />
<text x="295.40" y="411.70" font-size="9.2" text-anchor="end" fill="#1a1a1a" font-weight="normal" >0</text>
<line x1="297.60" y1="381.84" x2="301.20" y2="381.84" stroke="#1a1a1a" stroke-width="1.1" />
<text x="295.40" y="385.14" font-size="9.2" text-anchor="end" fill="#1a1a1a" font-weight="normal" >20</text>
<line x1="297.60" y1="355.28" x2="301.20" y2="355.28" stroke="#1a1a1a" stroke-width="1.1" />
<text x="295.40" y="358.58" font-size="9.2" text-anchor="end" fill="#1a1a1a" font-weight="normal" >40</text>
<line x1="297.60" y1="328.72" x2="301.20" y2="328.72" stroke="#1a1a1a" stroke-width="1.1" />
<text x="295.40" y="332.02" font-size="9.2" text-anchor="end" fill="#1a1a1a" font-weight="normal" >60</text>
<line x1="297.60" y1="302.16" x2="301.20" y2="302.16" stroke="#1a1a1a" stroke-width="1.1" />
<text x="295.40" y="305.46" font-size="9.2" text-anchor="end" fill="#1a1a1a" font-weight="normal" >80</text>
<line x1="297.60" y1="275.60" x2="301.20" y2="275.60" stroke="#1a1a1a" stroke-width="1.1" />
<text x="295.40" y="278.90" font-size="9.2" text-anchor="end" fill="#1a1a1a" font-weight="normal" >100</text>
<text x="318.50" y="422.80" font-size="9.2" text-anchor="middle" fill="#1a1a1a" font-weight="normal" >0</text>
<line x1="310.50" y1="428.40" x2="326.50" y2="428.40" stroke="#222" stroke-width="1.1" />
<text x="318.50" y="439.00" font-size="9.2" text-anchor="middle" fill="#1a1a1a" font-weight="normal" textLength="14.8" lengthAdjust="spacingAndGlyphs" >Veh</text>
<text x="345.50" y="422.80" font-size="9.2" text-anchor="middle" fill="#1a1a1a" font-weight="normal" >100</text>
<line x1="337.50" y1="428.40" x2="353.50" y2="428.40" stroke="#222" stroke-width="1.1" />
<text x="345.50" y="439.00" font-size="9.2" text-anchor="middle" fill="#1a1a1a" font-weight="normal" >iCO</text>
<text x="372.50" y="422.80" font-size="9.2" text-anchor="middle" fill="#1a1a1a" font-weight="normal" >100</text>
<line x1="364.50" y1="428.40" x2="380.50" y2="428.40" stroke="#222" stroke-width="1.1" />
<text x="372.50" y="439.00" font-size="9.2" text-anchor="middle" fill="#1a1a1a" font-weight="normal" >CO</text>
<line x1="318.00" y1="291.80" x2="371.20" y2="291.80" stroke="#555" stroke-width="1.6" />
<text x="344.60" y="291.70" font-size="9.4" text-anchor="middle" fill="#1a1a1a" font-weight="normal" >***</text>
<line x1="318.00" y1="309.60" x2="345.80" y2="309.60" stroke="#555" stroke-width="1.6" />
<text x="331.90" y="306.90" font-size="8.6" text-anchor="middle" fill="#1a1a1a" font-weight="normal" >ns</text>
<text x="467.40" y="252.40" font-size="10.2" text-anchor="middle" fill="#1a1a1a" font-weight="normal" textLength="46.9" lengthAdjust="spacingAndGlyphs" >Glycolytic</text>
<text x="467.40" y="264.60" font-size="10.2" text-anchor="middle" fill="#1a1a1a" font-weight="normal" textLength="42.2" lengthAdjust="spacingAndGlyphs" >Capacity</text>
<rect x="423.40" y="273.90" width="87.80" height="135.00" fill="#f7e5c9" />
<path d="M436.00,350.44H444.40M440.20,350.44V356.98M436.00,356.98H444.40" stroke="#1e1e1e" stroke-width="1.3" fill="none"/>
<rect x="431.20" y="355.98" width="18.00" height="52.92" fill="#542564" />
<line x1="431.70" y1="355.98" x2="431.70" y2="408.90" stroke="#43175a" stroke-width="1" />
<line x1="448.70" y1="355.98" x2="448.70" y2="408.90" stroke="#43175a" stroke-width="1" />
<line x1="440.20" y1="408.90" x2="440.20" y2="412.30" stroke="#1a1a1a" stroke-width="1.1" />
<path d="M463.00,334.25H471.40M467.20,334.25V343.75M463.00,343.75H471.40" stroke="#1e1e1e" stroke-width="1.3" fill="none"/>
<rect x="458.20" y="342.75" width="18.00" height="66.15" fill="#2d4a7c" />
<line x1="458.70" y1="342.75" x2="458.70" y2="408.90" stroke="#1d3769" stroke-width="1" />
<line x1="475.70" y1="342.75" x2="475.70" y2="408.90" stroke="#1d3769" stroke-width="1" />
<line x1="467.20" y1="408.90" x2="467.20" y2="412.30" stroke="#1a1a1a" stroke-width="1.1" />
<path d="M489.70,384.73H498.10M493.90,384.73V389.25M489.70,389.25H498.10" stroke="#1e1e1e" stroke-width="1.3" fill="none"/>
<rect x="484.90" y="388.25" width="18.00" height="20.65" fill="#69a742" />
<line x1="485.40" y1="388.25" x2="485.40" y2="408.90" stroke="#5a983a" stroke-width="1" />
<line x1="502.40" y1="388.25" x2="502.40" y2="408.90" stroke="#5a983a" stroke-width="1" />
<line x1="493.90" y1="408.90" x2="493.90" y2="412.30" stroke="#1a1a1a" stroke-width="1.1" />
<line x1="422.60" y1="270.90" x2="422.60" y2="409.50" stroke="#1a1a1a" stroke-width="1.3" />
<line x1="422.00" y1="408.90" x2="512.40" y2="408.90" stroke="#1a1a1a" stroke-width="1.3" />
<line x1="419.00" y1="408.90" x2="422.60" y2="408.90" stroke="#1a1a1a" stroke-width="1.1" />
<text x="416.80" y="412.20" font-size="9.2" text-anchor="end" fill="#1a1a1a" font-weight="normal" >0</text>
<line x1="419.00" y1="381.90" x2="422.60" y2="381.90" stroke="#1a1a1a" stroke-width="1.1" />
<text x="416.80" y="385.20" font-size="9.2" text-anchor="end" fill="#1a1a1a" font-weight="normal" >20</text>
<line x1="419.00" y1="354.90" x2="422.60" y2="354.90" stroke="#1a1a1a" stroke-width="1.1" />
<text x="416.80" y="358.20" font-size="9.2" text-anchor="end" fill="#1a1a1a" font-weight="normal" >40</text>
<line x1="419.00" y1="327.90" x2="422.60" y2="327.90" stroke="#1a1a1a" stroke-width="1.1" />
<text x="416.80" y="331.20" font-size="9.2" text-anchor="end" fill="#1a1a1a" font-weight="normal" >60</text>
<line x1="419.00" y1="300.90" x2="422.60" y2="300.90" stroke="#1a1a1a" stroke-width="1.1" />
<text x="416.80" y="304.20" font-size="9.2" text-anchor="end" fill="#1a1a1a" font-weight="normal" >80</text>
<line x1="419.00" y1="273.90" x2="422.60" y2="273.90" stroke="#1a1a1a" stroke-width="1.1" />
<text x="416.80" y="277.20" font-size="9.2" text-anchor="end" fill="#1a1a1a" font-weight="normal" >100</text>
<text x="440.20" y="423.30" font-size="9.2" text-anchor="middle" fill="#1a1a1a" font-weight="normal" >0</text>
<line x1="432.20" y1="428.90" x2="448.20" y2="428.90" stroke="#222" stroke-width="1.1" />
<text x="440.20" y="439.50" font-size="9.2" text-anchor="middle" fill="#1a1a1a" font-weight="normal" textLength="14.8" lengthAdjust="spacingAndGlyphs" >Veh</text>
<text x="467.20" y="423.30" font-size="9.2" text-anchor="middle" fill="#1a1a1a" font-weight="normal" >100</text>
<line x1="459.20" y1="428.90" x2="475.20" y2="428.90" stroke="#222" stroke-width="1.1" />
<text x="467.20" y="439.50" font-size="9.2" text-anchor="middle" fill="#1a1a1a" font-weight="normal" >iCO</text>
<text x="493.90" y="423.30" font-size="9.2" text-anchor="middle" fill="#1a1a1a" font-weight="normal" >100</text>
<line x1="485.90" y1="428.90" x2="501.90" y2="428.90" stroke="#222" stroke-width="1.1" />
<text x="493.90" y="439.50" font-size="9.2" text-anchor="middle" fill="#1a1a1a" font-weight="normal" >CO</text>
<line x1="440.40" y1="311.50" x2="493.00" y2="311.50" stroke="#555" stroke-width="1.6" />
<text x="466.70" y="311.40" font-size="9.4" text-anchor="middle" fill="#1a1a1a" font-weight="normal" >***</text>
<line x1="440.40" y1="329.70" x2="467.60" y2="329.70" stroke="#555" stroke-width="1.6" />
<text x="454.00" y="327.00" font-size="8.6" text-anchor="middle" fill="#1a1a1a" font-weight="normal" >ns</text>
<text x="8.50" y="469.70" font-size="12.8" text-anchor="start" fill="#000" font-weight="bold" >C</text>
<text x="128.50" y="482.10" font-size="10.7" text-anchor="middle" fill="#1a1a1a" font-weight="normal" textLength="65" lengthAdjust="spacingAndGlyphs" >Bioenergetics</text>
<rect x="60.8" y="488" width="134.80" height="133.40" fill="none" stroke="#1a1a1a" stroke-width="1.3"/>
<line x1="57.20" y1="621.40" x2="60.80" y2="621.40" stroke="#1a1a1a" stroke-width="1.1" />
<text x="55.20" y="624.70" font-size="9.2" text-anchor="end" fill="#1a1a1a" font-weight="normal" >0</text>
<line x1="57.20" y1="588.05" x2="60.80" y2="588.05" stroke="#1a1a1a" stroke-width="1.1" />
<text x="55.20" y="591.35" font-size="9.2" text-anchor="end" fill="#1a1a1a" font-weight="normal" >50</text>
<line x1="57.20" y1="554.70" x2="60.80" y2="554.70" stroke="#1a1a1a" stroke-width="1.1" />
<text x="55.20" y="558.00" font-size="9.2" text-anchor="end" fill="#1a1a1a" font-weight="normal" >100</text>
<line x1="57.20" y1="521.35" x2="60.80" y2="521.35" stroke="#1a1a1a" stroke-width="1.1" />
<text x="55.20" y="524.65" font-size="9.2" text-anchor="end" fill="#1a1a1a" font-weight="normal" >150</text>
<line x1="57.20" y1="488.00" x2="60.80" y2="488.00" stroke="#1a1a1a" stroke-width="1.1" />
<text x="55.20" y="491.30" font-size="9.2" text-anchor="end" fill="#1a1a1a" font-weight="normal" >200</text>
<line x1="60.80" y1="621.40" x2="60.80" y2="624.90" stroke="#1a1a1a" stroke-width="1.1" />
<text x="60.80" y="635.50" font-size="9.2" text-anchor="middle" fill="#1a1a1a" font-weight="normal" >0</text>
<line x1="94.50" y1="621.40" x2="94.50" y2="624.90" stroke="#1a1a1a" stroke-width="1.1" />
<text x="94.50" y="635.50" font-size="9.2" text-anchor="middle" fill="#1a1a1a" font-weight="normal" >20</text>
<line x1="128.20" y1="621.40" x2="128.20" y2="624.90" stroke="#1a1a1a" stroke-width="1.1" />
<text x="128.20" y="635.50" font-size="9.2" text-anchor="middle" fill="#1a1a1a" font-weight="normal" >40</text>
<line x1="161.90" y1="621.40" x2="161.90" y2="624.90" stroke="#1a1a1a" stroke-width="1.1" />
<text x="161.90" y="635.50" font-size="9.2" text-anchor="middle" fill="#1a1a1a" font-weight="normal" >60</text>
<line x1="195.60" y1="621.40" x2="195.60" y2="624.90" stroke="#1a1a1a" stroke-width="1.1" />
<text x="195.60" y="635.50" font-size="9.2" text-anchor="middle" fill="#1a1a1a" font-weight="normal" >80</text>
<text x="128.40" y="650.40" font-size="10.3" text-anchor="middle" fill="#1a1a1a" font-weight="normal" textLength="94.2" lengthAdjust="spacingAndGlyphs" >Glycolytic capacity (ECAR)</text>
<text transform="translate(34.20,551.00) rotate(-90)" x="0" y="0" font-size="10.4" text-anchor="middle" fill="#1a1a1a" textLength="92.5" lengthAdjust="spacingAndGlyphs">Respiratory capacity (OCR)</text>
<text x="65.00" y="498.80" font-size="8.5" text-anchor="start" fill="#1a1a1a" font-weight="normal" textLength="29.7" lengthAdjust="spacingAndGlyphs" >Aerobic</text>
<text x="191.90" y="498.80" font-size="8.5" text-anchor="end" fill="#1a1a1a" font-weight="normal" textLength="36" lengthAdjust="spacingAndGlyphs" >Energetic</text>
<text x="64.80" y="617.50" font-size="8.5" text-anchor="start" fill="#1a1a1a" font-weight="normal" textLength="38.2" lengthAdjust="spacingAndGlyphs" >Quiescent</text>
<text x="192.00" y="617.50" font-size="8.5" text-anchor="end" fill="#1a1a1a" font-weight="normal" textLength="36.4" lengthAdjust="spacingAndGlyphs" >Glycolytic</text>
<path d="M119.2,549.1L115.9,550.8M113.3,552.2L108.1,554.8M105.0,556.9L99.5,559.6" stroke="#e39328" stroke-width="1.9" stroke-linecap="round" fill="none"/>
<polygon points="96.2,561.1 100.4,555.7 101.4,558.6 103.6,560.8" fill="#e39328" stroke="#e39328" stroke-width="0.8" stroke-linejoin="round"/>
<path d="M128.37,524.02H162.41M128.37,521.42V526.62M162.41,521.42V526.62M145.39,519.02V529.02M142.79,519.02H147.99M142.79,529.02H147.99" stroke="#4d6ba3" stroke-width="1.2" fill="none"/>
<circle cx="145.39" cy="524.02" r="2.8" fill="#2d4a7c" />
<path d="M118.76,543.36H137.64M118.76,540.76V545.96M137.64,540.76V545.96M128.20,540.36V546.36M125.60,540.36H130.80M125.60,546.36H130.80" stroke="#1e1e1e" stroke-width="1.2" fill="none"/>
<circle cx="128.20" cy="543.36" r="2.8" fill="#542564" />
<rect x="85.00" y="560.00" width="6.60" height="9.00" fill="#7cb65a" />
<circle cx="88.30" cy="564.50" r="2.6" fill="#69a742" />
<circle cx="86.40" cy="561.90" r="0.7" fill="#d9ecd0" />
<circle cx="86.40" cy="567.10" r="0.7" fill="#d9ecd0" />
<circle cx="90.20" cy="561.90" r="0.7" fill="#d9ecd0" />
<circle cx="90.20" cy="567.10" r="0.7" fill="#d9ecd0" />
<circle cx="121.80" cy="568.20" r="2.8" fill="#542564" />
<text x="127.90" y="571.00" font-size="9.4" text-anchor="start" fill="#1a1a1a" font-weight="normal" textLength="26.3" lengthAdjust="spacingAndGlyphs" >Vehicle</text>
<circle cx="121.80" cy="581.20" r="2.8" fill="#2d4a7c" />
<text x="127.90" y="584.00" font-size="9.4" text-anchor="start" fill="#1a1a1a" font-weight="normal" textLength="60.8" lengthAdjust="spacingAndGlyphs" >iCORM (100μM)</text>
<circle cx="121.80" cy="594.60" r="2.8" fill="#69a742" />
<text x="127.90" y="597.40" font-size="9.4" text-anchor="start" fill="#1a1a1a" font-weight="normal" textLength="58.8" lengthAdjust="spacingAndGlyphs" >CORM (100μM)</text>
<text x="218.20" y="469.60" font-size="12.8" text-anchor="start" fill="#000" font-weight="bold" >D</text>
<text x="367.60" y="481.90" font-size="10" text-anchor="middle" fill="#1a1a1a" font-weight="normal" textLength="77.8" lengthAdjust="spacingAndGlyphs" >Intracellular ATP</text>
<line x1="267.80" y1="488.00" x2="267.80" y2="621.70" stroke="#1a1a1a" stroke-width="1.3" />
<line x1="267.20" y1="621.10" x2="470.80" y2="621.10" stroke="#1a1a1a" stroke-width="1.3" />
<line x1="264.20" y1="621.10" x2="267.80" y2="621.10" stroke="#1a1a1a" stroke-width="1.1" />
<text x="262.20" y="624.40" font-size="9.2" text-anchor="end" fill="#1a1a1a" font-weight="normal" >0</text>
<line x1="264.20" y1="590.73" x2="267.80" y2="590.73" stroke="#1a1a1a" stroke-width="1.1" />
<text x="262.20" y="594.02" font-size="9.2" text-anchor="end" fill="#1a1a1a" font-weight="normal" >25</text>
<line x1="264.20" y1="560.35" x2="267.80" y2="560.35" stroke="#1a1a1a" stroke-width="1.1" />
<text x="262.20" y="563.65" font-size="9.2" text-anchor="end" fill="#1a1a1a" font-weight="normal" >50</text>
<line x1="264.20" y1="529.98" x2="267.80" y2="529.98" stroke="#1a1a1a" stroke-width="1.1" />
<text x="262.20" y="533.27" font-size="9.2" text-anchor="end" fill="#1a1a1a" font-weight="normal" >75</text>
<line x1="264.20" y1="499.60" x2="267.80" y2="499.60" stroke="#1a1a1a" stroke-width="1.1" />
<text x="262.20" y="502.90" font-size="9.2" text-anchor="end" fill="#1a1a1a" font-weight="normal" >100</text>
<line x1="267.80" y1="621.10" x2="267.80" y2="624.60" stroke="#1a1a1a" stroke-width="1.1" />
<text x="267.80" y="635.50" font-size="9.2" text-anchor="middle" fill="#1a1a1a" font-weight="normal" >0</text>
<line x1="317.80" y1="621.10" x2="317.80" y2="624.60" stroke="#1a1a1a" stroke-width="1.1" />
<text x="317.80" y="635.50" font-size="9.2" text-anchor="middle" fill="#1a1a1a" font-weight="normal" >2</text>
<line x1="367.80" y1="621.10" x2="367.80" y2="624.60" stroke="#1a1a1a" stroke-width="1.1" />
<text x="367.80" y="635.50" font-size="9.2" text-anchor="middle" fill="#1a1a1a" font-weight="normal" >4</text>
<line x1="417.80" y1="621.10" x2="417.80" y2="624.60" stroke="#1a1a1a" stroke-width="1.1" />
<text x="417.80" y="635.50" font-size="9.2" text-anchor="middle" fill="#1a1a1a" font-weight="normal" >6</text>
<line x1="467.80" y1="621.10" x2="467.80" y2="624.60" stroke="#1a1a1a" stroke-width="1.1" />
<text x="467.80" y="635.50" font-size="9.2" text-anchor="middle" fill="#1a1a1a" font-weight="normal" >8</text>
<text x="369.60" y="650.60" font-size="11" text-anchor="middle" fill="#1a1a1a" font-weight="normal" textLength="46.8" lengthAdjust="spacingAndGlyphs" >Time (hours)</text>
<text transform="translate(240.60,554.70) rotate(-90)" x="0" y="0" font-size="10.8" text-anchor="middle" fill="#1a1a1a" textLength="66.2" lengthAdjust="spacingAndGlyphs">ATP (% vs vehicle)</text>
<polyline points="267.80,499.60 317.80,532.16 367.80,553.67 417.80,567.28 467.80,572.26" fill="none" stroke="#b5daa0" stroke-width="1.8" stroke-linejoin="round"/>
<polyline points="267.80,499.60 317.80,551.24 367.80,576.14 417.80,580.40 467.80,583.31" fill="none" stroke="#5ea83a" stroke-width="1.8" stroke-linejoin="round"/>
<polyline points="267.80,499.60 317.80,507.25 367.80,506.89 417.80,506.89 467.80,500.81" fill="none" stroke="#8d9fcb" stroke-width="1.8" stroke-linejoin="round" stroke-dasharray="4.5,2.6"/>
<polyline points="267.80,499.60 317.80,503.25 367.80,500.81 417.80,508.11 467.80,511.02" fill="none" stroke="#2a4a80" stroke-width="1.8" stroke-linejoin="round" stroke-dasharray="4.5,2.6"/>
<polyline points="267.80,499.60 317.80,499.60 367.80,499.60 417.80,499.60 467.80,500.21" fill="none" stroke="#542564" stroke-width="1.8" stroke-linejoin="round"/>
<path d="M265.30,489.88H270.30M267.80,489.88V509.32M265.30,509.32H270.30" stroke="#1e1e1e" stroke-width="1.2" fill="none"/>
<path d="M315.30,493.77H320.30M317.80,493.77V511.75M315.30,511.75H320.30" stroke="#1e1e1e" stroke-width="1.2" fill="none"/>
<path d="M365.30,493.53H370.30M367.80,493.53V509.32M365.30,509.32H370.30" stroke="#1e1e1e" stroke-width="1.2" fill="none"/>
<path d="M415.30,490.37H420.30M417.80,490.37V516.00M415.30,516.00H420.30" stroke="#1e1e1e" stroke-width="1.2" fill="none"/>
<path d="M465.30,493.53H470.30M467.80,493.53V511.51M465.30,511.51H470.30" stroke="#1e1e1e" stroke-width="1.2" fill="none"/>
<path d="M465.30,504.46H470.30M467.80,504.46V517.83M465.30,517.83H470.30" stroke="#1e1e1e" stroke-width="1.2" fill="none"/>
<path d="M315.30,504.46H320.30M317.80,504.46V510.54M315.30,510.54H320.30" stroke="#1e1e1e" stroke-width="1.2" fill="none"/>
<path d="M365.30,504.46H370.30M367.80,504.46V508.71M365.30,508.71H370.30" stroke="#1e1e1e" stroke-width="1.2" fill="none"/>
<path d="M415.30,503.85H420.30M417.80,503.85V512.36M415.30,512.36H420.30" stroke="#1e1e1e" stroke-width="1.2" fill="none"/>
<path d="M365.30,550.02H370.30M367.80,550.02V557.31M365.30,557.31H370.30" stroke="#1e1e1e" stroke-width="1.2" fill="none"/>
<path d="M415.30,560.59H420.30M417.80,560.59V573.96M415.30,573.96H420.30" stroke="#1e1e1e" stroke-width="1.2" fill="none"/>
<path d="M465.30,569.83H470.30M467.80,569.83V574.69M465.30,574.69H470.30" stroke="#1e1e1e" stroke-width="1.2" fill="none"/>
<path d="M415.30,576.75H420.30M417.80,576.75V584.04M415.30,584.04H420.30" stroke="#1e1e1e" stroke-width="1.2" fill="none"/>
<path d="M465.30,580.28H470.30M467.80,580.28V586.35M465.30,586.35H470.30" stroke="#1e1e1e" stroke-width="1.2" fill="none"/>
<circle cx="267.80" cy="499.60" r="2.6" fill="#b5daa0" />
<circle cx="317.80" cy="532.16" r="2.6" fill="#b5daa0" />
<circle cx="367.80" cy="553.67" r="2.6" fill="#b5daa0" />
<circle cx="417.80" cy="567.28" r="2.6" fill="#b5daa0" />
<circle cx="467.80" cy="572.26" r="2.6" fill="#b5daa0" />
<circle cx="267.80" cy="499.60" r="2.6" fill="#5ea83a" />
<circle cx="317.80" cy="551.24" r="2.6" fill="#5ea83a" />
<circle cx="367.80" cy="576.14" r="2.6" fill="#5ea83a" />
<circle cx="417.80" cy="580.40" r="2.6" fill="#5ea83a" />
<circle cx="467.80" cy="583.31" r="2.6" fill="#5ea83a" />
<circle cx="267.80" cy="499.60" r="2.6" fill="#8d9fcb" />
<circle cx="317.80" cy="507.25" r="2.6" fill="#8d9fcb" />
<circle cx="367.80" cy="506.89" r="2.6" fill="#8d9fcb" />
<circle cx="417.80" cy="506.89" r="2.6" fill="#8d9fcb" />
<circle cx="467.80" cy="500.81" r="2.6" fill="#8d9fcb" />
<circle cx="267.80" cy="499.60" r="2.6" fill="#2a4a80" />
<circle cx="317.80" cy="503.25" r="2.6" fill="#2a4a80" />
<circle cx="367.80" cy="500.81" r="2.6" fill="#2a4a80" />
<circle cx="417.80" cy="508.11" r="2.6" fill="#2a4a80" />
<circle cx="467.80" cy="511.02" r="2.6" fill="#2a4a80" />
<circle cx="267.80" cy="499.60" r="2.6" fill="#542564" />
<circle cx="317.80" cy="499.60" r="2.6" fill="#542564" />
<circle cx="367.80" cy="499.60" r="2.6" fill="#542564" />
<circle cx="417.80" cy="499.60" r="2.6" fill="#542564" />
<circle cx="467.80" cy="500.21" r="2.6" fill="#542564" />
<polyline points="473,502.1 479.4,502.1 479.4,574.6 473,574.6" fill="none" stroke="#1a1a1a" stroke-width="1.1"/>
<text transform="translate(479.2,538.6) rotate(90)" font-size="10" text-anchor="middle" fill="#1a1a1a">***</text>
<line x1="272.00" y1="574.40" x2="285.80" y2="574.40" stroke="#542564" stroke-width="1.8" />
<circle cx="278.90" cy="574.40" r="2.4" fill="#542564" />
<text x="289.40" y="577.50" font-size="8.8" text-anchor="start" fill="#1a1a1a" font-weight="normal" textLength="26.4" lengthAdjust="spacingAndGlyphs" >Vehicle</text>
<line x1="272.00" y1="583.45" x2="285.80" y2="583.45" stroke="#8d9fcb" stroke-width="1.8" />
<circle cx="278.90" cy="583.45" r="2.4" fill="#8d9fcb" />
<text x="289.40" y="586.55" font-size="8.8" text-anchor="start" fill="#1a1a1a" font-weight="normal" textLength="50" lengthAdjust="spacingAndGlyphs" >iCORM 50μM</text>
<line x1="272.00" y1="592.50" x2="285.80" y2="592.50" stroke="#2a4a80" stroke-width="1.8" />
<circle cx="278.90" cy="592.50" r="2.4" fill="#2a4a80" />
<text x="289.40" y="595.60" font-size="8.8" text-anchor="start" fill="#1a1a1a" font-weight="normal" textLength="55.3" lengthAdjust="spacingAndGlyphs" >iCORM 100μM</text>
<line x1="272.00" y1="601.55" x2="285.80" y2="601.55" stroke="#b5daa0" stroke-width="1.8" />
<circle cx="278.90" cy="601.55" r="2.4" fill="#b5daa0" />
<text x="289.40" y="604.65" font-size="8.8" text-anchor="start" fill="#1a1a1a" font-weight="normal" textLength="48" lengthAdjust="spacingAndGlyphs" >CORM 50μM</text>
<line x1="272.00" y1="610.60" x2="285.80" y2="610.60" stroke="#5ea83a" stroke-width="1.8" />
<circle cx="278.90" cy="610.60" r="2.4" fill="#5ea83a" />
<text x="289.40" y="613.70" font-size="8.8" text-anchor="start" fill="#1a1a1a" font-weight="normal" textLength="53.5" lengthAdjust="spacingAndGlyphs" >CORM 100μM</text>
<rect x="0.7" y="0.7" width="518.6" height="659.6" fill="none" stroke="#000" stroke-width="1.4"/>
</svg>
</body></html>
